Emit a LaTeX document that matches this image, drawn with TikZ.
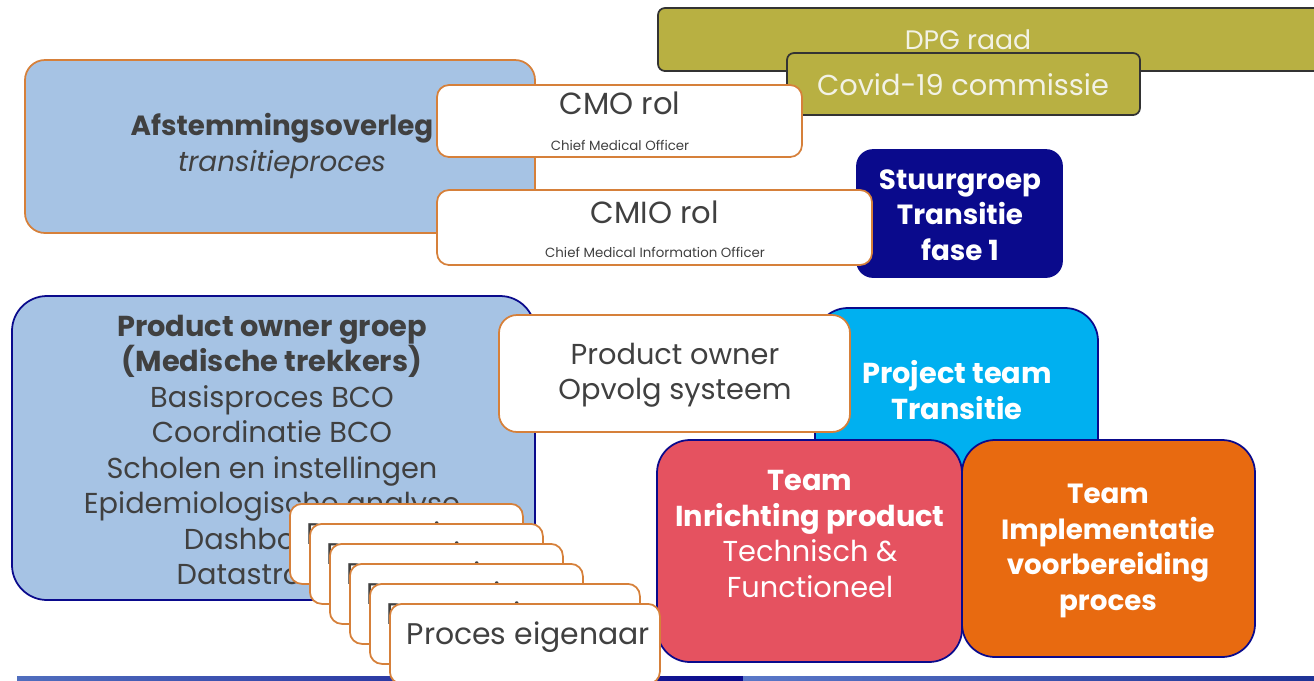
\documentclass[tikz,border=0pt]{standalone}
\usepackage{fontspec}
\setmainfont{Poppins}
\usetikzlibrary{positioning}

\definecolor{lichtblauw}{RGB}{166,195,228}
\definecolor{olijf}{RGB}{184,176,66}
\definecolor{donkerblauw}{RGB}{10,10,140}
\definecolor{cyaan}{RGB}{0,176,240}
\definecolor{roze}{RGB}{229,82,96}
\definecolor{oranje}{RGB}{232,106,16}
\definecolor{randoranje}{RGB}{214,128,58}
\definecolor{tekstgrijs}{RGB}{64,64,64}
\definecolor{lichtwit}{RGB}{242,242,230}

\newcommand\grootlet{\fontsize{8.2}{10.1}\selectfont}
\newcommand\kleinlet{\fontsize{3.8}{4.5}\selectfont}
\tikzset{
  kader/.style={draw, line width=0.5pt, inner sep=0pt},
  olijfkader/.style={kader, draw=black!80, fill=olijf, rounded corners=0.7mm},
  witkader/.style={kader, draw=randoranje, fill=white, rounded corners=1.2mm},
  teamkader/.style={kader, draw=donkerblauw, rounded corners=3.3mm},
  tekst/.style={inner sep=0pt, align=center, text=tekstgrijs, font=\grootlet},
}

\begin{document}
\begin{tikzpicture}[x=0.1mm, y=-0.1mm]
\useasboundingbox (0,0) rectangle (1314,680);
% balk onderaan
\shade[left color={rgb,255:red,80;green,110;blue,190}, right color=donkerblauw] (17,676) rectangle (743,681);
\shade[left color={rgb,255:red,90;green,120;blue,200}, right color={rgb,255:red,30;green,50;blue,150}] (743,676) rectangle (1314,681);

% raad en commissie
\node[olijfkader, minimum width=66.4mm, minimum height=6.3mm] (dpg) at (990,39.5) {};
\node[tekst, text=lichtwit, font=\fontsize{7.6}{9}\selectfont] (dpgtekst) at (968,40) {DPG raad};
\node[olijfkader, minimum width=35.3mm, minimum height=6.2mm] (covid) at (963.5,84) {};
\node[tekst, text=lichtwit] (covidtekst) at (963,85) {Covid-19 commissie};

% afstemmingsoverleg
\node[kader, draw=randoranje, fill=lichtblauw, rounded corners=2mm, minimum width=51mm, minimum height=17.3mm] (afstemming) at (280,146.5) {};
\node[tekst, font=\fontsize{7.9}{10.5}\selectfont] (afstemmingtekst) at (282,146) {\textbf{Afstemmingsoverleg}\\\textit{transitieproces}};

\node[kader, draw=donkerblauw, fill=donkerblauw, rounded corners=1.6mm, minimum width=20.5mm, minimum height=12.7mm] (stuurgroep) at (959.5,213.5) {};
\node[tekst, text=white, font=\fontsize{7.9}{10.1}\selectfont\bfseries] (stuurgroeptekst) at (960,215) {Stuurgroep\\Transitie\\fase 1};

\node[witkader, minimum width=36.5mm, minimum height=7.2mm] (cmo) at (619.5,121) {};
\node[tekst, font=\fontsize{8.7}{10}\selectfont] (cmotitel) at (620,103) {CMO rol};
\node[tekst, font=\kleinlet] (cmosub) at (620,145) {Chief Medical Officer};
\node[witkader, minimum width=43.5mm, minimum height=7.5mm] (cmio) at (654.5,227.5) {};
\node[tekst, font=\fontsize{8.7}{10}\selectfont] (cmiotitel) at (655,212) {CMIO rol};
\node[tekst, font=\kleinlet] (cmiosub) at (655,252) {Chief Medical Information Officer};

% product owner groep
\node[kader, draw=donkerblauw, fill=lichtblauw, rounded corners=3.5mm, minimum width=52.3mm, minimum height=30.4mm] (pogroep) at (273.5,448) {};
\node[tekst] (pogroeptekst) at (272,450) {\textbf{Product owner groep}\\\textbf{(Medische trekkers)}\\Basisproces BCO\\Coordinatie BCO\\Scholen en instellingen\\Epidemiologische analyse\\Dashboards\\Datastromen};

% teams
\node[teamkader, fill=cyaan, minimum width=28.3mm, minimum height=17.2mm] (projectteam) at (956.5,394) {};
\node[tekst, text=white, font=\grootlet\bfseries] (projectteamtekst) at (957,390) {Project team\\Transitie};
\node[witkader, rounded corners=1.8mm, minimum width=35.1mm, minimum height=11.7mm] (opvolg) at (674.5,373.5) {};
\node[tekst] (opvolgtekst) at (675,375) {Product owner\\Opvolg systeem};
\node[teamkader, fill=oranje, minimum width=29.3mm, minimum height=21.7mm] (implementatie) at (1108.5,548.5) {};
\node[tekst, text=white, font=\fontsize{7.9}{10.1}\selectfont\bfseries] (implementatietekst) at (1108,551) {Team\\Implementatie\\voorbereiding\\proces};
\node[teamkader, fill=roze, minimum width=30.5mm, minimum height=22.2mm] (inrichting) at (809.5,551) {};
\node[tekst, text=white] (inrichtingtekst) at (810,534) {\textbf{Team}\\\textbf{Inrichting product}\\Technisch \&\\Functioneel};

% proces eigenaren, tekst afgeknipt op de kaart
\foreach \i/\b in {0/233,1/233,2/233,3/233,4/270,5/270}{
  \node[witkader, anchor=north west, minimum width=0.1mm*\b, minimum height=8mm] (kaart\i) at ({289+20*\i},{503+20*\i}) {};
  \begin{scope}
    \clip (kaart\i.north west) rectangle ([xshift=-0.6pt]kaart\i.south east);
    \node[tekst, anchor=west, font=\fontsize{8.5}{10}\selectfont] (kaarttekst\i) at ([xshift=1.7mm, yshift=-3.4mm]kaart\i.north west) {Proces eigenaar};
  \end{scope}
}
\end{tikzpicture}
\end{document}
